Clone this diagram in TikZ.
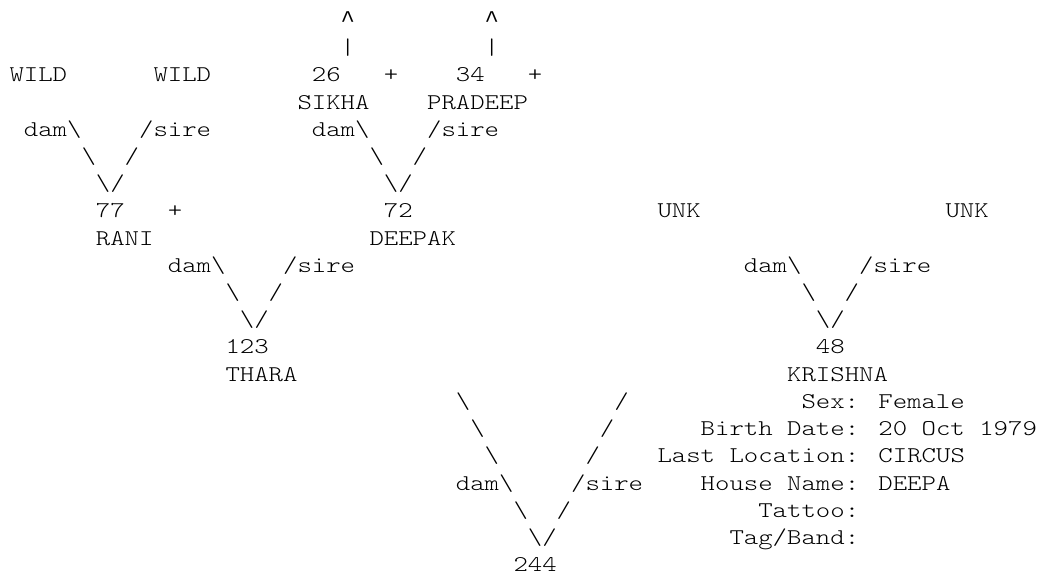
\documentclass[tikz,border=0pt]{standalone}
\usepackage{fontspec}
\newfontfamily\cour{lmmonolt10-regular.otf}[FakeStretch=1.22]
\newfontfamily\caretfont{Liberation Mono}
\newcommand\bs{\textbackslash}
\newcommand\caret{{\caretfont\fontsize{24pt}{27pt}\selectfont\textasciicircum}}
\newcommand\tk[4]{\node[tok] (#1) at ({9.5pt+#2*14.4pt},{-27.6pt-#3*27.2pt}) {#4};}
\begin{document}
\begin{tikzpicture}[tok/.style={anchor=base west, inner sep=0pt, outer sep=0pt, font=\cour\fontsize{22.5pt}{27pt}\selectfont, text=black}]
\useasboundingbox[fill=white] (0pt,0pt) rectangle (1037pt,-577pt);
% line 0-1
\tk{a0}{23}{0}{\caret}
\tk{b0}{33}{0}{\caret}
\tk{a1}{23}{1}{|}
\tk{b1}{33}{1}{|}
% line 2
\tk{wildA}{0}{2}{WILD}
\tk{wildB}{10}{2}{WILD}
\tk{n26}{21}{2}{26}
\tk{p26}{26}{2}{+}
\tk{n34}{31}{2}{34}
\tk{p34}{36}{2}{+}
% line 3
\tk{sikha}{20}{3}{SIKHA}
\tk{pradeep}{29}{3}{PRADEEP}
% line 4
\tk{damA}{1}{4}{dam\bs}
\tk{sireA}{9}{4}{/sire}
\tk{damB}{21}{4}{dam\bs}
\tk{sireB}{29}{4}{/sire}
% line 5
\tk{l5a}{5}{5}{\bs}
\tk{l5b}{8}{5}{/}
\tk{l5c}{25}{5}{\bs}
\tk{l5d}{28}{5}{/}
% line 6
\tk{l6a}{6}{6}{\bs/}
\tk{l6b}{26}{6}{\bs/}
% line 7
\tk{n77}{6}{7}{77}
\tk{p77}{11}{7}{+}
\tk{n72}{26}{7}{72}
\tk{unkA}{45}{7}{UNK}
\tk{unkB}{65}{7}{UNK}
% line 8
\tk{rani}{6}{8}{RANI}
\tk{deepak}{25}{8}{DEEPAK}
% line 9
\tk{damC}{11}{9}{dam\bs}
\tk{sireC}{19}{9}{/sire}
\tk{damD}{51}{9}{dam\bs}
\tk{sireD}{59}{9}{/sire}
% line 10
\tk{l10a}{15}{10}{\bs}
\tk{l10b}{18}{10}{/}
\tk{l10c}{55}{10}{\bs}
\tk{l10d}{58}{10}{/}
% line 11
\tk{l11a}{16}{11}{\bs/}
\tk{l11b}{56}{11}{\bs/}
% line 12-13
\tk{n123}{15}{12}{123}
\tk{n48}{56}{12}{48}
\tk{thara}{15}{13}{THARA}
\tk{krishna}{54}{13}{KRISHNA}
% line 14
\tk{l14a}{31}{14}{\bs}
\tk{l14b}{42}{14}{/}
\tk{sex}{55}{14}{Sex: Female}
% line 15
\tk{l15a}{32}{15}{\bs}
\tk{l15b}{41}{15}{/}
\tk{birth}{48}{15}{Birth Date: 20 Oct 1979}
% line 16
\tk{l16a}{33}{16}{\bs}
\tk{l16b}{40}{16}{/}
\tk{loc}{45}{16}{Last Location: CIRCUS}
% line 17
\tk{damE}{31}{17}{dam\bs}
\tk{sireE}{39}{17}{/sire}
\tk{house}{48}{17}{House Name: DEEPA}
% line 18
\tk{l18a}{35}{18}{\bs}
\tk{l18b}{38}{18}{/}
\tk{tattoo}{52}{18}{Tattoo:}
% line 19
\tk{l19a}{36}{19}{\bs/}
\tk{tag}{50}{19}{Tag/Band:}
% line 20
\tk{n244}{35}{20}{244}
\end{tikzpicture}
\end{document}
